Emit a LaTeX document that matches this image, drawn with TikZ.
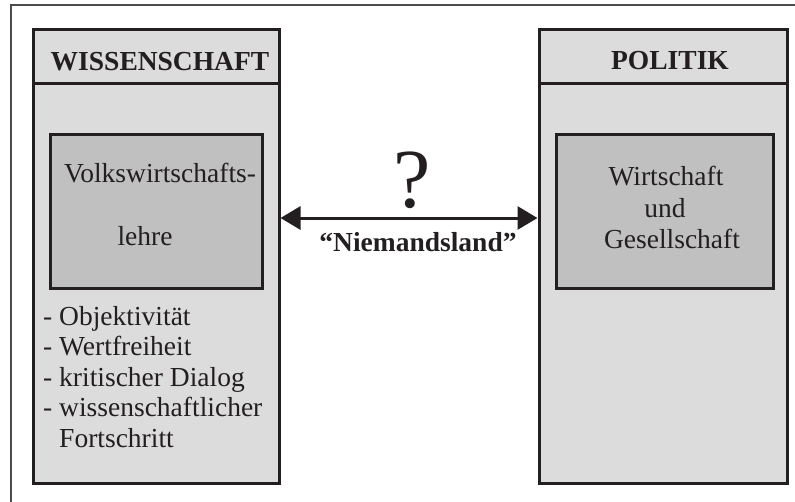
\documentclass[tikz,border=0pt]{standalone}
\usepackage{fontspec}
\setmainfont{Liberation Serif}
\usetikzlibrary{arrows.meta}
\definecolor{hellgrau}{HTML}{DCDCDC}
\definecolor{mittelgrau}{HTML}{C0C0C0}
\definecolor{linie}{HTML}{231F20}
\begin{document}
\begin{tikzpicture}[x=1pt,y=-1pt,
    kasten/.style={rectangle,draw=linie,line width=3pt,fill=hellgrau},
    innen/.style={rectangle,draw=linie,line width=3pt,fill=mittelgrau},
    txt/.style={inner sep=0pt,anchor=base,text=linie,font=\fontsize{27.5}{30.5}\selectfont},
    liste/.style={txt,anchor=base west}]
\useasboundingbox (0,0) rectangle (795,501);
\begin{scope}
\clip (0,0) rectangle (795,501);
\draw[line width=1.5pt,draw=black!70] (11,5) rectangle (805,515);
\end{scope}

\node[kasten,minimum width=246pt,minimum height=454pt] (w) at (156,256) {};
\node[kasten,minimum width=246pt,minimum height=54pt] (wkopf) at (156,56) {};
\node[innen,minimum width=212pt,minimum height=154pt] (vwl) at (156,211) {};

\node[kasten,minimum width=248pt,minimum height=454pt] (p) at (663,256) {};
\node[kasten,minimum width=248pt,minimum height=54pt] (pkopf) at (663,56) {};
\node[innen,minimum width=217pt,minimum height=154pt] (wug) at (664.5,211) {};

\node[txt,font=\fontsize{27.5}{30.5}\selectfont\bfseries] (t1) at (160,70) {WISSENSCHAFT};
\node[txt,font=\fontsize{27.5}{30.5}\selectfont\bfseries] (t2) at (670,69) {POLITIK};

\node[txt] (v1) at (160,182) {Volkswirtschafts-};
\node[txt] (v2) at (145,245) {lehre};

\node[txt] (g1) at (666,185) {Wirtschaft};
\node[txt] (g2) at (665,217) {und};
\node[txt] (g3) at (672,248) {Gesellschaft};

\node[liste] (l1) at (43,325) {- Objektivität};
\node[liste] (l2) at (43,355.5) {- Wertfreiheit};
\node[liste] (l3) at (43,386) {- kritischer Dialog};
\node[liste] (l4) at (43,416.5) {- wissenschaftlicher};
\node[liste] (l5) at (43,447) {\phantom{- }Fortschritt};

\node[txt,font=\fontsize{84}{90}\selectfont] (frage) at (412,207) {?};
\node[txt,font=\fontsize{27.5}{30.5}\selectfont\bfseries] (nml) at (418,251) {“Niemandsland”};

\draw[line width=3pt,draw=linie,{Triangle[length=20pt,width=23pt]}-{Triangle[length=20pt,width=23pt]}]
    ([yshift=38pt]w.east) -- ([yshift=38pt]p.west);
\end{tikzpicture}
\end{document}
